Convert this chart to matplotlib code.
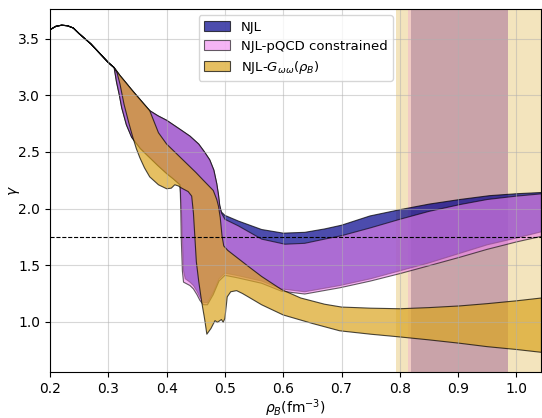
"""Adiabatic index gamma vs baryon density for the NJL model variants."""

import numpy as np
import matplotlib.pyplot as plt
from matplotlib.colors import to_rgba

# low density part, identical for all three models
rho_common = [0.200, 0.210, 0.220, 0.230, 0.240, 0.250, 0.260, 0.270, 0.280, 0.290, 0.300, 0.310]
gamma_common = [3.58, 3.61, 3.62, 3.615, 3.595, 3.545, 3.50, 3.455, 3.40, 3.345, 3.29, 3.245]

# common upper line of all bands down to ~0.37
rho_top = [0.320, 0.330, 0.340, 0.350, 0.360, 0.371]
gamma_top = [3.175, 3.113, 3.05, 2.99, 2.93, 2.865]

# NJL (upper / lower edge)
njl_up_rho = [0.385, 0.400, 0.423, 0.440, 0.455, 0.465, 0.474, 0.481, 0.486, 0.489, 0.491, 0.494,
              0.500, 0.523, 0.563, 0.600, 0.637, 0.671, 0.700, 0.749, 0.800, 0.851, 0.903, 0.954, 1.000, 1.043]
njl_up_gamma = [2.82, 2.78, 2.70, 2.64, 2.57, 2.50, 2.43, 2.34, 2.22, 2.12, 2.03, 1.97,
                1.94, 1.89, 1.815, 1.783, 1.79, 1.82, 1.853, 1.935, 1.99, 2.04, 2.08, 2.114, 2.131, 2.142]
njl_lo_rho = [0.314, 0.319, 0.323, 0.331, 0.340, 0.355, 0.371, 0.385, 0.400, 0.412, 0.423,
              0.425, 0.427, 0.429, 0.432, 0.440, 0.446, 0.452, 0.457, 0.463, 0.470, 0.480, 0.490,
              0.500, 0.520, 0.563, 0.597, 0.637, 0.697, 0.750, 0.800, 0.850, 0.903, 0.950, 1.000, 1.043]
njl_lo_gamma = [3.12, 3.00, 2.89, 2.74, 2.63, 2.53, 2.45, 2.38, 2.31, 2.26, 2.21,
                2.05, 1.75, 1.45, 1.38, 1.35, 1.32, 1.27, 1.22, 1.17, 1.17, 1.26, 1.38,
                1.43, 1.41, 1.36, 1.29, 1.265, 1.32, 1.38, 1.45, 1.52, 1.605, 1.68, 1.74, 1.795]

# NJL-pQCD constrained
pqcd_up_rho = [0.385, 0.400, 0.423, 0.440, 0.455, 0.465, 0.474, 0.481, 0.486, 0.489, 0.491, 0.494,
               0.500, 0.523, 0.563, 0.603, 0.637, 0.671, 0.700, 0.750, 0.800, 0.850, 0.903, 0.950, 1.000, 1.043]
pqcd_up_gamma = [2.82, 2.78, 2.70, 2.64, 2.57, 2.50, 2.43, 2.34, 2.22, 2.12, 2.03, 1.96,
                 1.905, 1.847, 1.73, 1.685, 1.693, 1.73, 1.76, 1.83, 1.905, 1.975, 2.035, 2.08, 2.11, 2.13]
pqcd_lo_rho = [0.314, 0.319, 0.323, 0.331, 0.340, 0.355, 0.371, 0.385, 0.400, 0.412, 0.423,
               0.424, 0.425, 0.427, 0.429, 0.440, 0.446, 0.452, 0.457, 0.463, 0.470, 0.480, 0.490,
               0.500, 0.520, 0.563, 0.597, 0.637, 0.697, 0.750, 0.800, 0.850, 0.903, 0.950, 1.000, 1.043]
pqcd_lo_gamma = [3.12, 3.00, 2.89, 2.74, 2.63, 2.53, 2.45, 2.38, 2.31, 2.26, 2.21,
                 2.05, 1.75, 1.45, 1.35, 1.32, 1.29, 1.24, 1.19, 1.15, 1.15, 1.24, 1.36,
                 1.41, 1.39, 1.34, 1.27, 1.245, 1.30, 1.36, 1.425, 1.495, 1.57, 1.64, 1.705, 1.755]

# NJL-G_ww(rho_B)
g_up_rho = [0.376, 0.386, 0.400, 0.420, 0.434, 0.450, 0.463, 0.480, 0.486, 0.489, 0.492, 0.495, 0.498,
            0.505, 0.520, 0.540, 0.563, 0.597, 0.630, 0.671, 0.700, 0.750, 0.800, 0.850, 0.903, 0.950, 1.000, 1.043]
g_up_gamma = [2.80, 2.67, 2.57, 2.47, 2.40, 2.32, 2.25, 2.16, 2.08, 2.02, 1.92, 1.76, 1.67,
              1.63, 1.57, 1.49, 1.40, 1.285, 1.21, 1.155, 1.13, 1.12, 1.115, 1.125, 1.14, 1.16, 1.185, 1.21]
g_lo_rho = [0.315, 0.320, 0.327, 0.335, 0.342, 0.348, 0.354, 0.362, 0.371, 0.386, 0.400, 0.408, 0.414,
            0.420, 0.426, 0.437, 0.443, 0.446, 0.451, 0.455, 0.460, 0.465, 0.469, 0.476, 0.483, 0.487,
            0.490, 0.494, 0.497, 0.500, 0.504, 0.510, 0.520, 0.530, 0.540, 0.563, 0.600, 0.650, 0.697,
            0.750, 0.800, 0.850, 0.903, 0.950, 1.000, 1.043]
g_lo_gamma = [3.20, 3.10, 2.92, 2.76, 2.63, 2.53, 2.45, 2.36, 2.28, 2.21, 2.175, 2.18, 2.21,
              2.20, 2.18, 2.15, 2.11, 1.96, 1.53, 1.36, 1.18, 1.03, 0.89, 0.94, 1.01, 0.995,
              1.005, 1.02, 0.995, 1.03, 1.22, 1.265, 1.275, 1.25, 1.22, 1.15, 1.06, 0.985, 0.92,
              0.89, 0.866, 0.84, 0.81, 0.78, 0.755, 0.73]

# shaded density ranges
span_wide = (0.794, 1.05)
span_pink = (0.814, 0.985)
span_dark = (0.819, 0.985)
gamma_conf = 1.75


def band_polygon(up_rho, up_gamma, lo_rho, lo_gamma):
    """Closed outline: common part, upper edge, then lower edge backwards."""
    x = np.concatenate([rho_common, rho_top, up_rho, lo_rho[::-1], rho_common[::-1]])
    y = np.concatenate([gamma_common, gamma_top, up_gamma, lo_gamma[::-1], gamma_common[::-1]])
    return x, y


fig = plt.figure(figsize=(5.42, 4.18), dpi=100)
ax = fig.add_axes([0.0923, 0.11, 0.9067, 0.869])

ax.axvspan(*span_wide, color='#f3e4bd', lw=0, zorder=0)
ax.axvspan(*span_pink, color='#f1cbc4', lw=0, zorder=0)
ax.axvspan(*span_dark, color='#c9a3a9', lw=0, zorder=0)

bands = [
    (njl_up_rho, njl_up_gamma, njl_lo_rho, njl_lo_gamma, 'darkblue', 0.7, 'NJL'),
    (pqcd_up_rho, pqcd_up_gamma, pqcd_lo_rho, pqcd_lo_gamma, 'violet', 0.6, 'NJL-pQCD constrained'),
    (g_up_rho, g_up_gamma, g_lo_rho, g_lo_gamma, 'goldenrod', 0.7, r'NJL-$G_{\omega\omega}(\rho_B)$'),
]
for up_x, up_y, lo_x, lo_y, c, a, lab in bands:
    x, y = band_polygon(up_x, up_y, lo_x, lo_y)
    ax.fill(x, y, fc=to_rgba(c, a), ec=(0, 0, 0, a), lw=0.8, joinstyle='round', label=lab)

ax.axhline(gamma_conf, color='k', ls='--', lw=0.8)

ax.set_xlim(0.2, 1.043)
ax.set_ylim(0.556, 3.765)
ax.set_xticks(np.arange(0.2, 1.01, 0.1))
ax.set_yticks(np.arange(1.0, 3.51, 0.5))
ax.grid(True, alpha=0.5)
ax.set_xlabel(r'$\rho_B$(fm$^{-3}$)', labelpad=1)
ax.set_ylabel(r'$\gamma$')
ax.yaxis.set_label_coords(-0.058, 0.5)
ax.legend(loc='upper center', fontsize=9.5, labelspacing=0.45)

fig.savefig('out.png', dpi=100)
